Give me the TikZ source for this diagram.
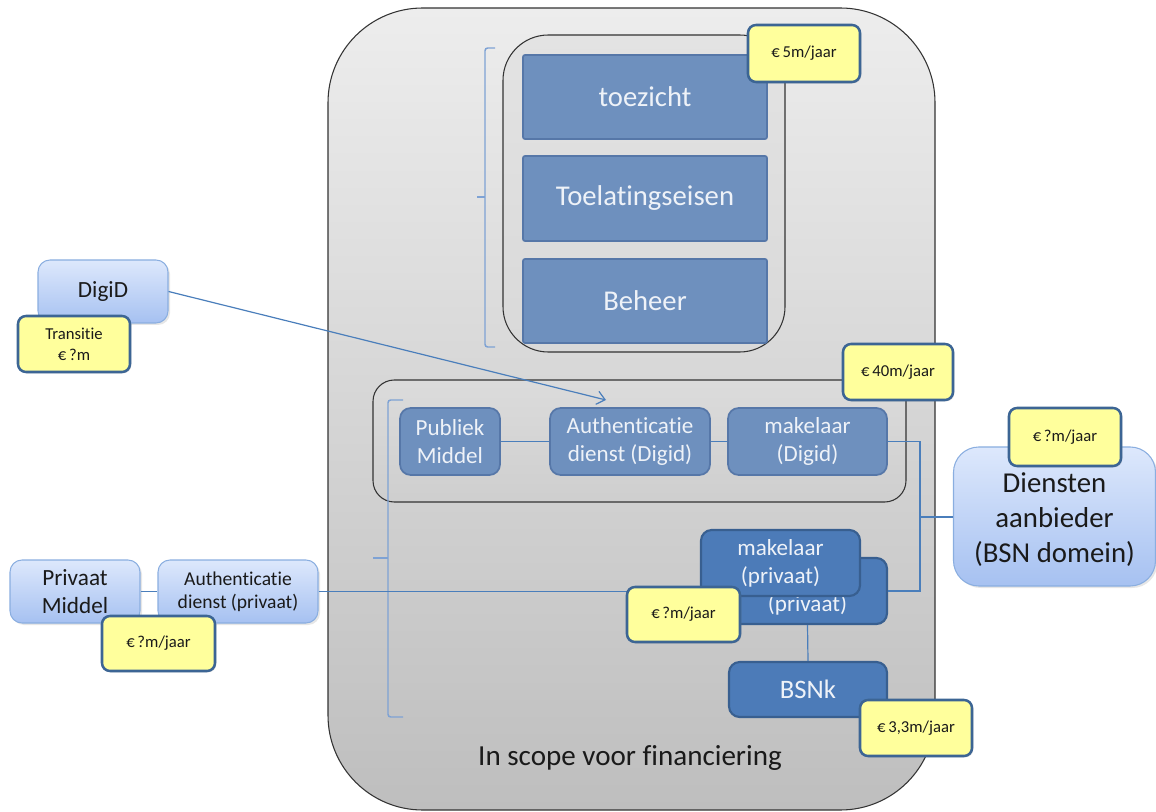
\documentclass[tikz,border=0pt]{standalone}
\usepackage{fontspec}
\setmainfont{Carlito}[Ligatures=NoCommon]
\usetikzlibrary{shadows,arrows.meta}
\definecolor{blkfill}{HTML}{6E90BE}
\definecolor{blkedge}{HTML}{5677A8}
\definecolor{blktext}{HTML}{EEF2F8}
\definecolor{dkfill}{HTML}{4C7BB8}
\definecolor{dkedge}{HTML}{385F90}
\definecolor{costfill}{HTML}{FFFF9C}
\definecolor{costedge}{HTML}{3C6594}
\definecolor{gtop}{HTML}{DDE8FC}
\definecolor{gbot}{HTML}{A6C1F1}
\definecolor{gedge}{HTML}{8AAEE0}
\definecolor{lineblue}{HTML}{4A7EBB}
\definecolor{brkblue}{HTML}{7EA2D4}
\definecolor{outtop}{HTML}{EDEDED}
\definecolor{outbot}{HTML}{BEBEBE}
\definecolor{txt}{HTML}{1A1A1A}
\begin{document}
\begin{tikzpicture}[x=0.75pt,y=-0.75pt,
  wd/.style={minimum width=#1*0.75pt},
  ht/.style={minimum height=#1*0.75pt},
  base/.style={inner sep=0pt, align=center},
  blk/.style={base, draw=blkedge, fill=blkfill, text=blktext, line width=1.3pt, rounded corners=1.5pt},
  rblk/.style={blk, rounded corners=8pt, font=\fontsize{17.3}{21}\selectfont},
  dblk/.style={base, draw=dkedge, fill=dkfill, text=blktext, line width=1.6pt, rounded corners=8pt, font=\fontsize{17.3}{21}\selectfont},
  cost/.style={base, draw=costedge, fill=costfill, text=txt, line width=1.9pt, rounded corners=6pt,
    font=\fontsize{12.5}{16}\selectfont, drop shadow={shadow xshift=1pt, shadow yshift=-1pt, opacity=0.25}},
  grad/.style={base, draw=gedge, top color=gtop, bottom color=gbot, text=txt, line width=0.8pt, rounded corners=9pt,
    drop shadow={shadow xshift=1.5pt, shadow yshift=-1.5pt, opacity=0.2}},
  conn/.style={draw=lineblue, line width=0.9pt},
  brk/.style={draw=brkblue, line width=1.1pt, rounded corners=2pt},
  frame/.style={base, draw=black!80, line width=0.8pt}
]
\useasboundingbox (0,0) rectangle (1156,812);

% outer scope
\node[frame, top color=outtop, bottom color=outbot, rounded corners=71pt, wd=607, ht=802] (scope) at (631.5,409) {};
\node[text=txt, font=\fontsize{21.8}{26}\selectfont] (scopetxt) at (630,758) {In scope voor financiering};

% top group
\node[frame, top color=black!11, bottom color=black!15, rounded corners=34pt, wd=282, ht=317] (topgrp) at (644,193.5) {};
\node[blk, wd=244, ht=84, font=\fontsize{21.5}{25}\selectfont] (toez) at (645,97) {toezicht};
\node[blk, wd=244, ht=85, font=\fontsize{21.5}{25}\selectfont] (toel) at (645,198.5) {Toelatingseisen};
\node[blk, wd=244, ht=84, font=\fontsize{21.5}{25}\selectfont] (beh) at (645,301) {Beheer};
\node[cost, wd=112, ht=57] (c5) at (804,53.5) {€\,5m/jaar};
\draw[brk] (495,48) -- (485,48) -- (485,347) -- (495,347);
\draw[brk] (485,197) -- (477,197);

% middle group
\node[frame, top color=black!14, bottom color=black!19, rounded corners=16pt, wd=533, ht=122] (midgrp) at (639.5,441) {};
\draw[conn] (450,441.5) -- (807.5,441.5);
\node[rblk, wd=100, ht=67] (pub) at (450,441.5) {Publiek\\Middel};
\node[rblk, wd=160, ht=67] (authd) at (630,441.5) {Authenticatie\\dienst (Digid)};
\node[rblk, wd=159, ht=67] (makd) at (807.5,441.5) {makelaar\\(Digid)};
\node[cost, wd=110, ht=56] (c40) at (898,372) {€\,40m/jaar};

% big bracket
\draw[brk] (403,400) -- (388,400) -- (388,717) -- (403,717);
\draw[brk] (388,558) -- (373,558);

% right side
\coordinate (j) at (920,517);
\node[grad, wd=202, ht=139, rounded corners=19pt] (dienst) at (1054.5,516.5) {};
\node[base, text=txt, font=\fontsize{21.6}{26}\selectfont] (dtext) at (1054.5,519.5) {Diensten\\aanbieder\\(BSN domein)};
\node[cost, wd=112, ht=58] (cd) at (1065,437) {€\,?m/jaar};

% left side
\node[grad, wd=130, ht=63, font=\fontsize{17.4}{21}\selectfont] (priv) at (75,591.5) {Privaat\\Middel};
\node[grad, wd=160, ht=63, font=\fontsize{14.7}{17}\selectfont] (authp) at (238,591.5) {Authenticatie\\dienst (privaat)};
\node[grad, wd=130, ht=63, font=\fontsize{17.4}{21}\selectfont] (digid) at (103,291.5) {DigiD};
\node[cost, wd=112, ht=56] (ctr) at (74,344) {Transitie\\€\,?m};

% private chain
\node[dblk, wd=159, ht=66] (mkb) at (807.5,591) {\phantom{makelaar}\\(privaat)};
\draw[conn] (makd.east) -| (j) |- (mkb.east);
\draw[conn] (j) -- (dienst.west |- j);
\draw[conn] (priv.east) -- (authp.west);
\draw[conn] (authp.east) -- (authp.east -| 701,0);
\node[dblk, wd=159, ht=66] (mkf) at (780.5,563) {makelaar\\(privaat)};
\node[cost, wd=113, ht=55] (cmid) at (683.5,614.5) {€\,?m/jaar};
\node[cost, wd=113, ht=55] (cleft) at (158.5,643.5) {€\,?m/jaar};
\node[dblk, wd=158, ht=55, font=\fontsize{20}{24}\selectfont] (bsnk) at (808,689.5) {BSNk};
\draw[conn] (mkb.south) -- (bsnk.north);
\node[cost, wd=112, ht=56] (c33) at (916,728) {€\,3,3m/jaar};

% DigiD arrow
\coordinate (atip) at (606,400);
\draw[conn, -{Straight Barb[length=6pt,width=10pt]}] (digid.east) -- (atip);
\end{tikzpicture}
\end{document}
